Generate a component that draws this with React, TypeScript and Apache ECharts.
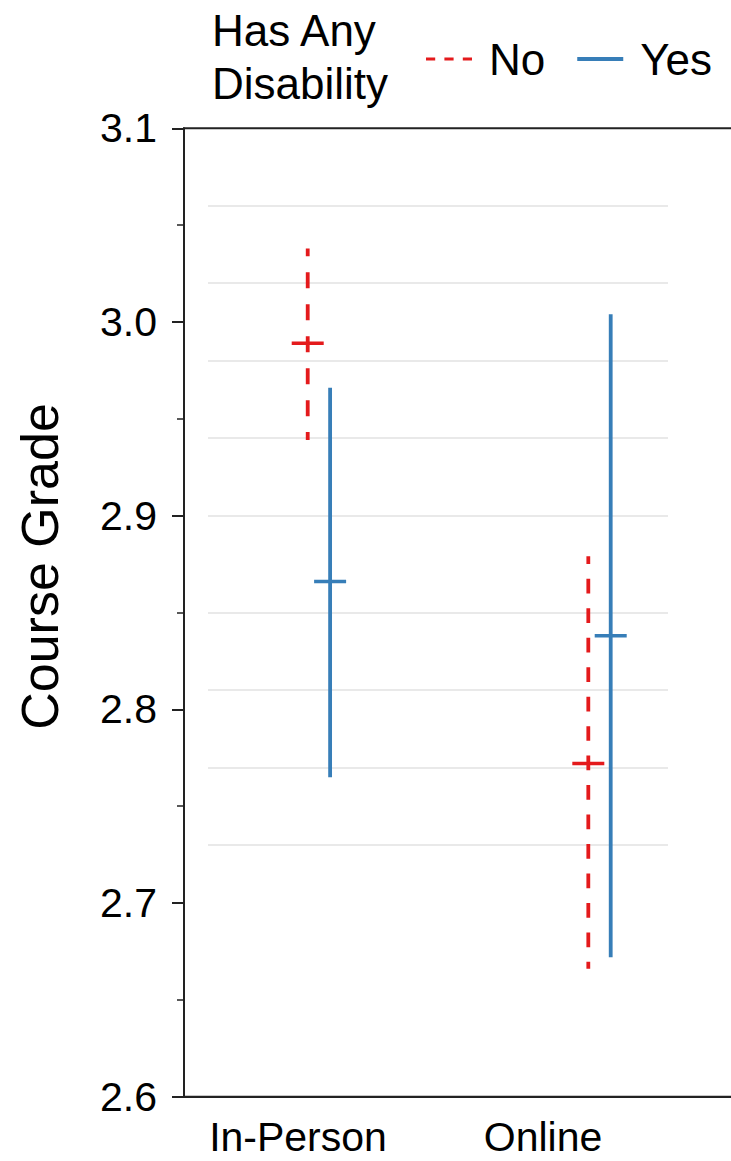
import React, { useEffect, useRef } from "react";
import * as echarts from "echarts";

// ---- data ----
const categories = ["In-Person", "Online"];
const groupNames = ["No", "Yes"];
const noMean = [2.989, 2.772];
const noLow = [2.939, 2.666];
const noHigh = [3.038, 2.879];
const yesMean = [2.866, 2.838];
const yesLow = [2.765, 2.672];
const yesHigh = [2.966, 3.004];
const yMin = 2.6;
const yMax = 3.1;
const yInterval = 0.1;
const gridLineValues = [3.065, 3.023, 2.981, 2.939, 2.897, 2.855, 2.814, 2.772, 2.73];

const RED = "#e41a1c";
const BLUE = "#377eb8";
const FONT = "'Liberation Sans', Arial, Helvetica, sans-serif";

function makeRenderItem(offset: number, dashed: boolean, color: string) {
  return (params: any, api: any) => {
    const cat = api.value(0);
    const low = api.value(1);
    const mean = api.value(2);
    const high = api.value(3);
    const top = api.coord([cat, high]);
    const bot = api.coord([cat, low]);
    const mid = api.coord([cat, mean]);
    const x = top[0] + offset;
    const len = bot[1] - top[1];
    let lineDash: any = null;
    let lineDashOffset = 0;
    if (dashed) {
      const n = Math.max(1, Math.round(len / 30));
      const period = len / n;
      lineDash = [period / 2, period / 2];
      lineDashOffset = period / 4;
    }
    return {
      type: "group",
      children: [
        {
          type: "line",
          shape: { x1: x, y1: top[1], x2: x, y2: bot[1] },
          style: { stroke: color, lineWidth: 3.8, lineDash, lineDashOffset, fill: null },
        },
        {
          type: "line",
          shape: { x1: x - 16, y1: mid[1], x2: x + 16, y2: mid[1] },
          style: { stroke: color, lineWidth: 3.6, fill: null },
        },
      ],
    };
  };
}

export default function App() {
  const ref = useRef<HTMLDivElement>(null);
  useEffect(() => {
    if (!ref.current) return;
    const chart = echarts.init(ref.current, null, { renderer: "svg" });
    const noData = categories.map((_, i) => [i, noLow[i], noMean[i], noHigh[i]]);
    const yesData = categories.map((_, i) => [i, yesLow[i], yesMean[i], yesHigh[i]]);
    const gridTop = 128.3;
    const gridHeight = 968.4;
    const option: any = {
      animation: false,
      backgroundColor: "#ffffff",
      textStyle: { fontFamily: FONT },
      title: {
        text: "Has Any\nDisability",
        left: 212,
        top: 4,
        padding: 0,
        textStyle: { fontSize: 44, fontWeight: "normal", lineHeight: 53, color: "#000", fontFamily: FONT },
      },
      legend: {
        data: [
          { name: groupNames[0], icon: "path://M0 0h9v3h-9z M18 0h9v3h-9z M36 0h9v3h-9z" },
          { name: groupNames[1], icon: "rect" },
        ],
        left: 426,
        top: 37,
        padding: 0,
        itemWidth: 46,
        itemHeight: 4,
        itemGap: 32,
        textStyle: { fontSize: 44, color: "#000", fontFamily: FONT, padding: [0, 0, 0, 12] },
      },
      grid: [
        {
          left: 184,
          top: gridTop,
          width: 600,
          height: gridHeight,
          show: true,
          borderColor: "#222",
          borderWidth: 2,
          backgroundColor: "transparent",
        },
        { left: 175.5, top: gridTop, width: 490, height: gridHeight },
        { left: 208, top: gridTop, width: 460, height: gridHeight },
      ],
      xAxis: [
        {
          type: "value",
          gridIndex: 0,
          min: -0.4808,
          max: 1.6575,
          axisLine: { show: true, onZero: false, lineStyle: { color: "#222", width: 2 } },
          axisTick: { show: false },
          axisLabel: { show: false },
          splitLine: { show: false },
        },
        {
          type: "category",
          gridIndex: 1,
          data: categories,
          axisLine: { show: false },
          axisTick: { show: false },
          axisLabel: { fontSize: 41, lineHeight: 44, color: "#000", margin: 18, fontFamily: FONT },
          splitLine: { show: false },
        },
        { type: "value", gridIndex: 2, min: 0, max: 1, show: false },
      ],
      yAxis: [
        {
          type: "value",
          gridIndex: 0,
          min: yMin,
          max: yMax,
          interval: yInterval,
          axisLine: { show: true, onZero: false, lineStyle: { color: "#222", width: 2 } },
          axisTick: { show: true, length: 12, lineStyle: { color: "#222", width: 2 } },
          minorTick: { show: true, splitNumber: 2, length: 7, lineStyle: { color: "#222", width: 1.5 } },
          axisLabel: {
            fontSize: 41,
            color: "#000",
            margin: 27,
            fontFamily: FONT,
            formatter: (v: number) => v.toFixed(1),
          },
          splitLine: { show: false },
          name: "Course Grade",
          nameLocation: "middle",
          nameGap: 118,
          nameRotate: 90,
          nameTextStyle: { fontSize: 52, color: "#000", fontFamily: FONT, padding: [0, 0, 0, 92] },
        },
        { type: "value", gridIndex: 1, min: yMin, max: yMax, show: false },
        { type: "value", gridIndex: 2, min: yMin, max: yMax, show: false },
      ],
      series: [
        {
          type: "line",
          name: "grid-lines",
          xAxisIndex: 2,
          yAxisIndex: 2,
          data: [],
          silent: true,
          z: 0,
          markLine: {
            silent: true,
            symbol: "none",
            label: { show: false },
            lineStyle: { color: "#e2e2e2", width: 1.5, type: "solid" },
            data: gridLineValues.map((v) => ({ yAxis: v })),
          },
        },
        {
          type: "custom",
          name: groupNames[0],
          xAxisIndex: 0,
          yAxisIndex: 0,
          itemStyle: { color: RED },
          encode: { x: 0, y: [1, 2, 3] },
          renderItem: makeRenderItem(-11.2, true, RED),
          data: noData,
          z: 5,
        },
        {
          type: "custom",
          name: groupNames[1],
          xAxisIndex: 0,
          yAxisIndex: 0,
          itemStyle: { color: BLUE },
          encode: { x: 0, y: [1, 2, 3] },
          renderItem: makeRenderItem(11.2, false, BLUE),
          data: yesData,
          z: 5,
        },
      ],
    };
    chart.setOption(option);
    return () => chart.dispose();
  }, []);
  return (
    <div style={{ position: "absolute", left: 0, top: 0, width: 731, height: 1161, overflow: "hidden" }}>
      <div ref={ref} style={{ position: "absolute", left: 0, top: 0, width: 820, height: 1161 }} />
    </div>
  );
}
